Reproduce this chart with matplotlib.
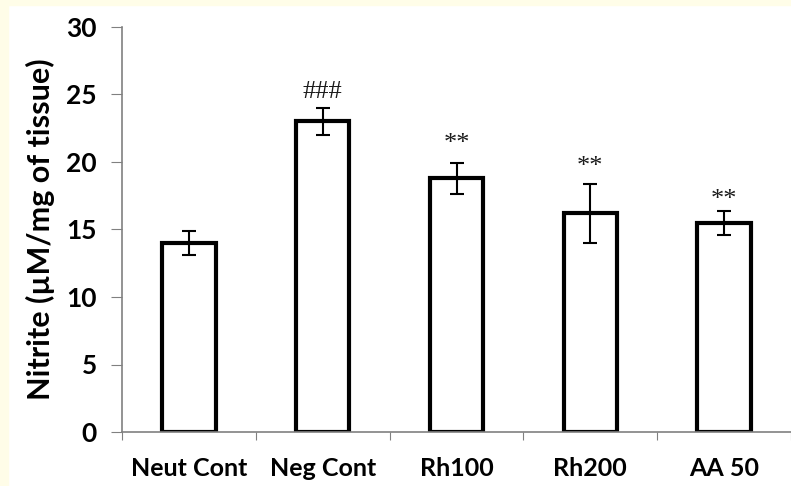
import numpy as np
import matplotlib.pyplot as plt
from matplotlib.patches import Rectangle

groups = ["Neut Cont", "Neg Cont", "Rh100", "Rh200", "AA 50"]
nitrite = [14.0, 23.0, 18.8, 16.2, 15.5]
err = [0.9, 1.0, 1.15, 2.2, 0.9]
marks = ["", "###", "**", "**", "**"]
mark_y = [0, 25.2, 21.3, 19.6, 17.2]

fig = plt.figure(figsize=(7.91, 4.86), dpi=100)
fig.patch.set_facecolor("white")
# pale yellow frame on left and top
fig.patches.append(Rectangle((0, 0), 8 / 791, 1, transform=fig.transFigure,
                             color="#fffde8", zorder=-1))
fig.patches.append(Rectangle((0, 1 - 5 / 486), 1, 5 / 486, transform=fig.transFigure,
                             color="#fffde8", zorder=-1))

ax = fig.add_axes([122 / 791, 1 - 432 / 486, 669 / 791, 405 / 486])
x = np.arange(len(groups))
ax.bar(x, nitrite, width=0.4, color="white", edgecolor="black", linewidth=3, zorder=2)
ax.errorbar(x, nitrite, yerr=err, fmt="none", ecolor="black", elinewidth=1.5,
            capsize=5, capthick=1.5, zorder=3)
for xi, m, my in zip(x, marks, mark_y):
    if m:
        ax.text(xi, my, m, ha="center", va="center", fontsize=19,
                family="Liberation Serif", color="#1a1a1a")

ax.set_xlim(-0.5, 4.5)
ax.set_ylim(0, 30)
ax.set_yticks(range(0, 31, 5))
ax.set_xticks(np.arange(-0.5, 5, 1))
ax.set_xticklabels([])
ax.set_xticks(x, minor=True)
ax.set_xticklabels(groups, minor=True)
ax.tick_params(axis="x", which="minor", length=0, pad=18)
ax.tick_params(axis="x", which="major", length=6, color="#808080", direction="out")
ax.tick_params(axis="y", length=8, color="#808080", pad=10)
for lab in ax.get_xticklabels(minor=True):
    lab.set_family("Lato")
    lab.set_fontweight("bold")
    lab.set_fontsize(18)
for lab in ax.get_yticklabels():
    lab.set_family("Lato")
    lab.set_fontweight("bold")
    lab.set_fontsize(19)

for s in ["top", "right"]:
    ax.spines[s].set_visible(False)
for s in ["left", "bottom"]:
    ax.spines[s].set_color("#808080")
    ax.spines[s].set_linewidth(1.2)

ax.set_ylabel("Nitrite (µM/mg of tissue)", fontsize=22, fontweight="bold",
              family="Lato", labelpad=8)

fig.savefig("out.png", dpi=100)
